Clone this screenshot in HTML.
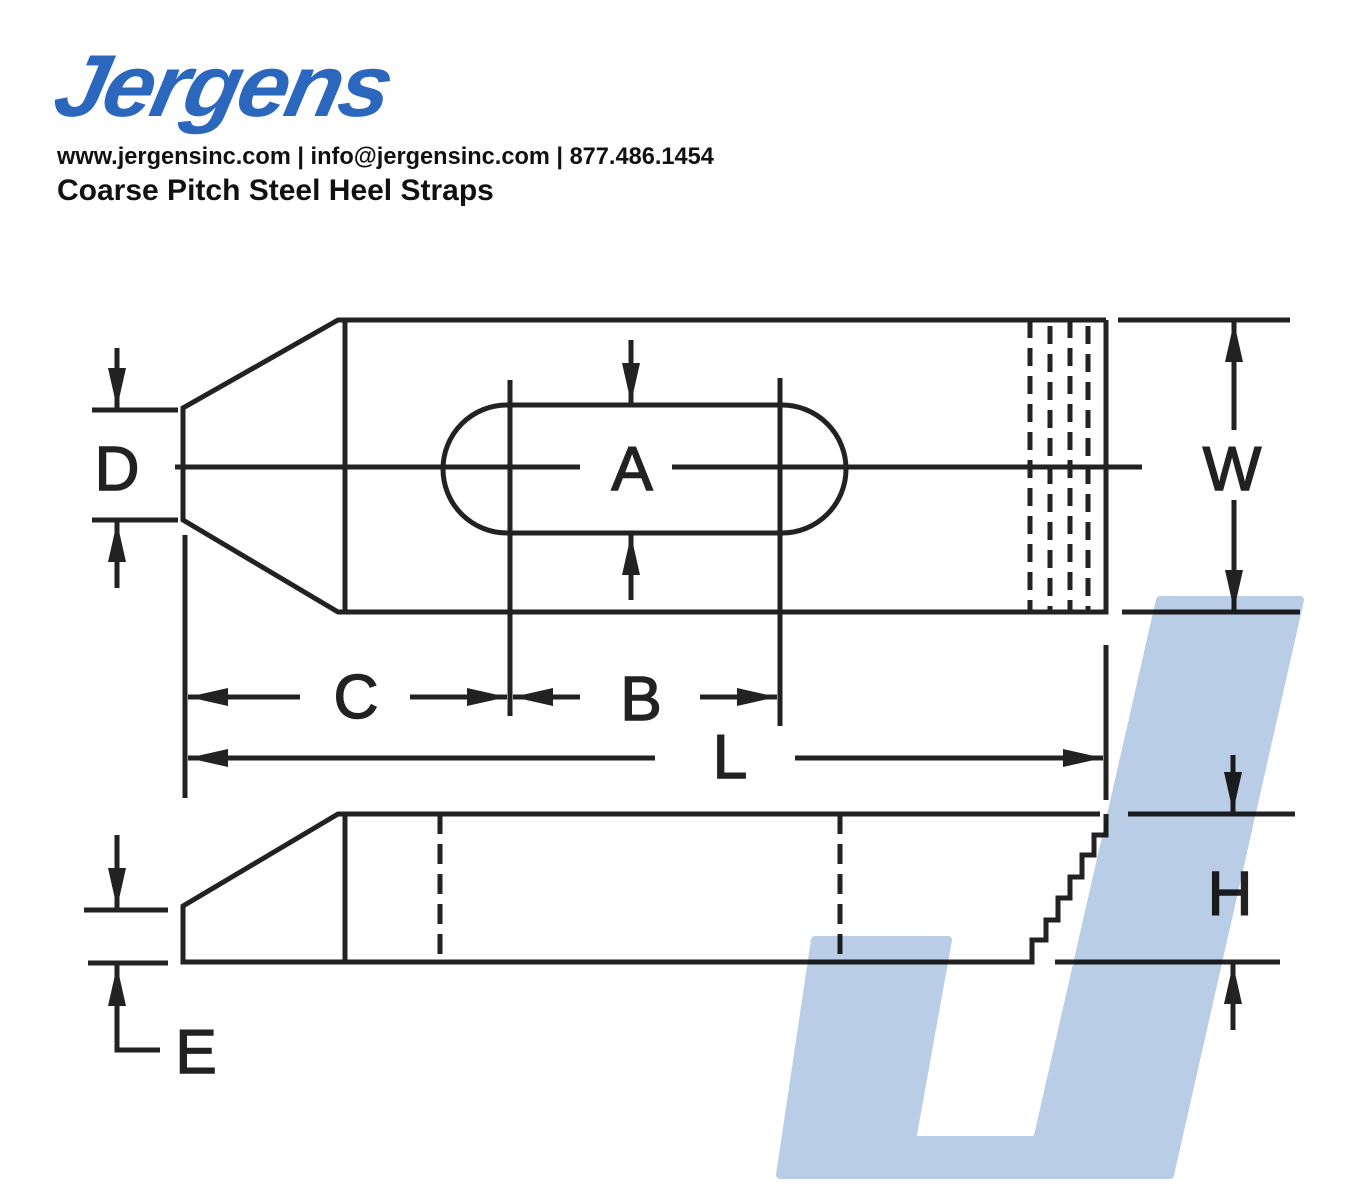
<!DOCTYPE html>
<html><head><meta charset="utf-8"><style>
body{margin:0;background:#fff;width:1360px;height:1200px;overflow:hidden;position:relative;font-family:"Liberation Sans",sans-serif}
.logo{position:absolute;left:66px;top:42px;font-size:88px;font-weight:bold;font-style:italic;color:#2b67bd;letter-spacing:-3px;transform:skewX(-12deg) scaleX(1.05);transform-origin:left top;line-height:1}
.l1{position:absolute;left:57px;top:144px;font-size:23.6px;font-weight:bold;color:#111;white-space:nowrap}
.l2{position:absolute;left:57px;top:174px;font-size:30px;font-weight:bold;color:#111;white-space:nowrap}
svg{position:absolute;left:0;top:0}
</style></head><body>
<div class="logo">Jergens</div>
<div class="l1">www.jergensinc.com | info@jergensinc.com | 877.486.1454</div>
<div class="l2">Coarse Pitch Steel Heel Straps</div>
<svg width="1360" height="1200" viewBox="0 0 1360 1200">
<defs>
<marker id="b" markerWidth="40" markerHeight="18" refX="40" refY="9" orient="auto" markerUnits="userSpaceOnUse" viewBox="0 0 40 18"><path d="M0,0L40,9L0,18z" fill="#222"/></marker></defs>
<g stroke="#222" stroke-width="5" fill="none">
<path d="M1106,320H338L183,408V520L338,612H1106V320"/>
<line x1="345" y1="320" x2="345" y2="612"/>
<line x1="175" y1="467" x2="580" y2="467"/>
<line x1="672" y1="467" x2="1142" y2="467"/>
<rect x="443" y="405" width="403" height="128" rx="64"/>
<line x1="510" y1="380" x2="510" y2="716"/>
<line x1="780" y1="378" x2="780" y2="726"/>
<g stroke-dasharray="18,10"><line x1="1030" y1="320" x2="1030" y2="612"/><line x1="1050" y1="326" x2="1050" y2="612"/><line x1="1070" y1="320" x2="1070" y2="612"/><line x1="1088" y1="326" x2="1088" y2="612"/></g>
<line x1="1118" y1="320" x2="1290" y2="320"/><line x1="1122" y1="612" x2="1300" y2="612"/>
<line x1="1234" y1="430" x2="1234" y2="322" marker-end="url(#b)"/>
<line x1="1234" y1="500" x2="1234" y2="610" marker-end="url(#b)"/>
<line x1="92" y1="410" x2="178" y2="410"/><line x1="92" y1="520" x2="178" y2="520"/>
<line x1="117" y1="348" x2="117" y2="408" marker-end="url(#b)"/>
<line x1="117" y1="588" x2="117" y2="522" marker-end="url(#b)"/>
<line x1="631" y1="340" x2="631" y2="403" marker-end="url(#b)"/>
<line x1="631" y1="600" x2="631" y2="535" marker-end="url(#b)"/>
<line x1="185" y1="535" x2="185" y2="798"/>
<line x1="1106" y1="645" x2="1106" y2="800"/>
<line x1="300" y1="697" x2="188" y2="697" marker-end="url(#b)"/>
<line x1="410" y1="697" x2="507" y2="697" marker-end="url(#b)"/>
<line x1="580" y1="697" x2="513" y2="697" marker-end="url(#b)"/>
<line x1="700" y1="697" x2="777" y2="697" marker-end="url(#b)"/>
<line x1="655" y1="758" x2="188" y2="758" marker-end="url(#b)"/>
<line x1="795" y1="758" x2="1103" y2="758" marker-end="url(#b)"/>
<path d="M1100,814H338L183,906V962H1032V940H1046V920H1058V898H1070V877H1082V855H1094V835H1106V814"/>
<line x1="345" y1="814" x2="345" y2="962"/>
<g stroke-dasharray="20,10"><line x1="440" y1="814" x2="440" y2="962"/><line x1="840" y1="814" x2="840" y2="962"/></g>
<line x1="1128" y1="814" x2="1295" y2="814"/><line x1="1055" y1="962" x2="1280" y2="962"/>
<line x1="1233" y1="755" x2="1233" y2="812" marker-end="url(#b)"/>
<line x1="1233" y1="1030" x2="1233" y2="964" marker-end="url(#b)"/>
<line x1="84" y1="910" x2="168" y2="910"/><line x1="88" y1="963" x2="168" y2="963"/>
<line x1="117" y1="835" x2="117" y2="908" marker-end="url(#b)"/>
<path d="M117,965V1050H160"/>
<line x1="117" y1="1010" x2="117" y2="966" marker-end="url(#b)"/>
</g>
<g font-family="Liberation Sans,sans-serif" font-size="62" fill="#222" stroke="#222" stroke-width="1.5" text-anchor="middle">
<text x="117" y="490">D</text><text x="632" y="490">A</text><text x="1232" y="490">W</text>
<text x="356" y="718">C</text><text x="641" y="720">B</text><text x="730" y="778">L</text>
<text x="1230" y="915">H</text><text x="196" y="1073">E</text>
</g>
<path d="M1160,600H1300L1170,1175H780L815,940H948L912,1140H1037Z" fill="#a9c1e0" opacity="0.8" style="mix-blend-mode:multiply" stroke="#a9c1e0" stroke-width="8" stroke-linejoin="round"/>
</svg>
</body></html>
